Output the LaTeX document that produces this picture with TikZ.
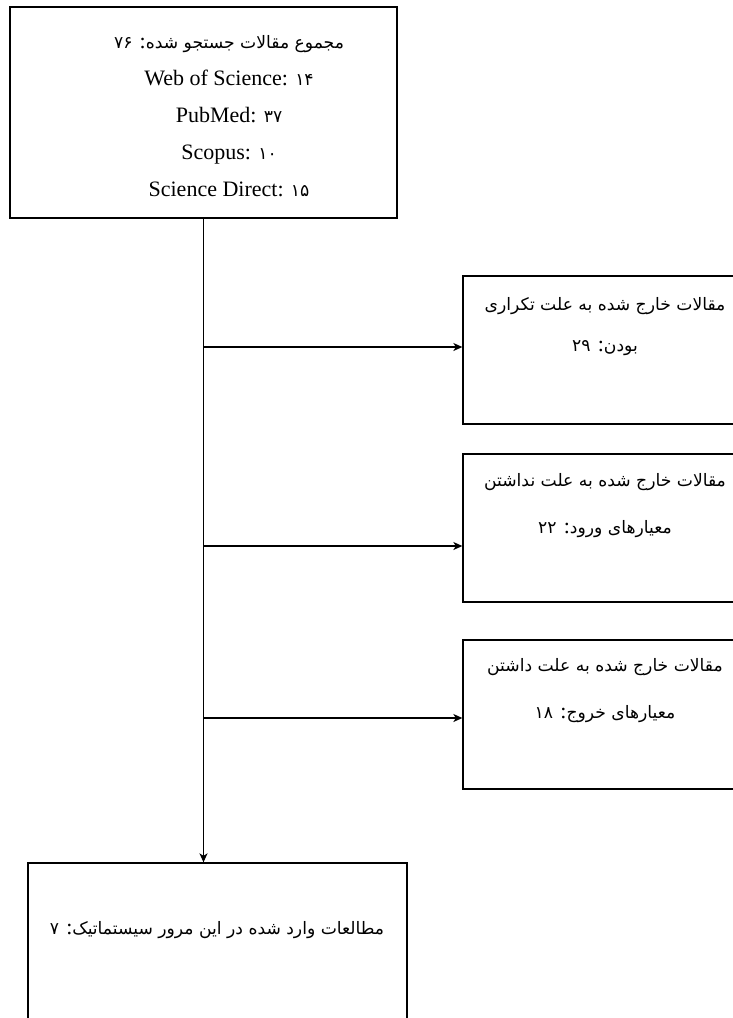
\documentclass[tikz,border=0pt]{standalone}
\usepackage{fontspec}
\usetikzlibrary{arrows.meta}
\setmainfont{Liberation Serif}
\newfontfamily\fa[Script=Arabic,Scale=0.78]{DejaVu Sans}
\TeXXeTstate=1
\newcommand{\rl}[1]{{\fa\beginR #1\endR}}
\newcommand{\nm}[1]{\beginL #1\endL{}}
\newcommand{\cln}{{\rmfamily:}}
\begin{document}
\begin{tikzpicture}[x=1pt,y=-1pt,line width=1.3pt,
  box/.style={draw,rectangle,inner sep=0pt},
  lbl/.style={align=center,font=\fontsize{22}{37}\selectfont,inner sep=0pt},
  arr/.style={-{Stealth[length=9pt,width=8pt,inset=2.5pt]}}]
\useasboundingbox (0,0) rectangle (733,1018);
\clip (0,0) rectangle (733,1018);
% top box
\node[box,minimum width=387pt,minimum height=211pt] (top) at (203.5,112.5) {};
\node[lbl] (toptxt) at (229,116) {\rl{مجموع مقالات جستجو شده\cln{} \nm{۷۶}}\\
  Web of Science: {\fa ۱۴}\\ PubMed: {\fa ۳۷}\\ Scopus: {\fa ۱۰}\\ Science Direct: {\fa ۱۵}};
% right boxes
\node[box,minimum width=284pt,minimum height=148pt] (b1) at (605,350) {};
\node[lbl] (t1) at (605,327) {\rl{مقالات خارج شده به علت تکراری}\\[4pt]\rl{بودن\cln{} \nm{۲۹}}};
\node[box,minimum width=284pt,minimum height=148pt] (b2) at (605,528) {};
\node[lbl] (t2) at (605,506) {\rl{مقالات خارج شده به علت نداشتن}\\[10pt]\rl{معیارهای ورود\cln{} \nm{۲۲}}};
\node[box,minimum width=284pt,minimum height=149pt] (b3) at (605,714.5) {};
\node[lbl] (t3) at (605,691) {\rl{مقالات خارج شده به علت داشتن}\\[10pt]\rl{معیارهای خروج\cln{} \nm{۱۸}}};
% bottom box
\node[box,minimum width=379pt,minimum height=237pt] (bot) at (217.5,981.5) {};
\node[lbl] (bt) at (217,930) {\rl{مطالعات وارد شده در این مرور سیستماتیک\cln{} \nm{۷}}};
% connectors
\coordinate (j1) at (203.5,347);
\coordinate (j2) at (203.5,546);
\coordinate (j3) at (203.5,718);
\draw[arr] (top.south) -- (top.south |- bot.north);
\draw[arr] (j1) -- (j1 -| b1.west);
\draw[arr] (j2) -- (j2 -| b2.west);
\draw[arr] (j3) -- (j3 -| b3.west);
\end{tikzpicture}
\end{document}
